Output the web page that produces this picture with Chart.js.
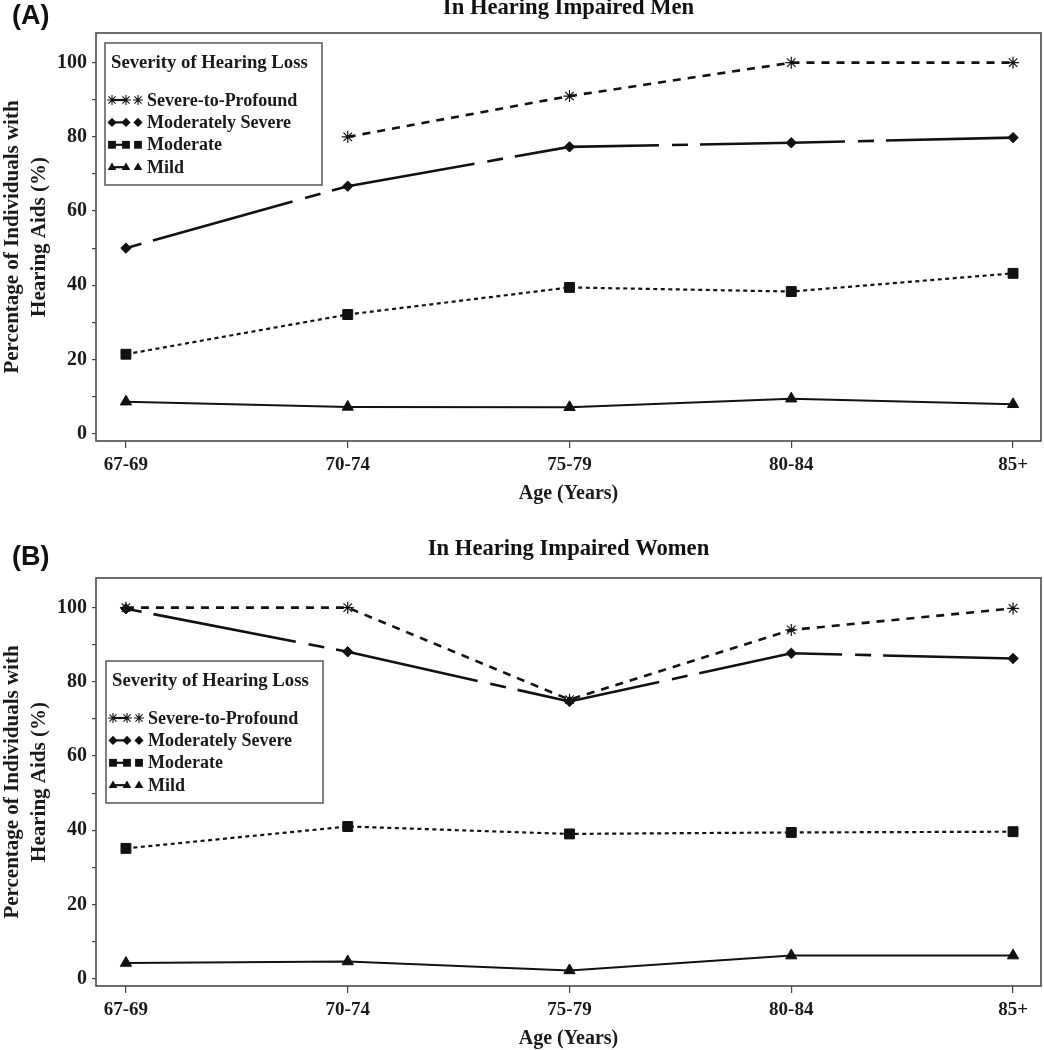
<!DOCTYPE html>
<html><head><meta charset="utf-8">
<script src="https://cdn.jsdelivr.net/npm/chart.js@4.4.1/dist/chart.umd.min.js"></script>
<style>
html,body{margin:0;padding:0;background:#fff;overflow:hidden;width:1044px;height:1050px;}
.wrap{position:absolute;left:0;width:1044px;height:545px;}
</style></head><body>
<div class="wrap" style="top:-12px"><canvas id="cA" width="1044" height="545"></canvas></div>
<div class="wrap" style="top:533px"><canvas id="cB" width="1044" height="545"></canvas></div>
<script>
// ---- data ----
const ageGroups = ['67-69', '70-74', '75-79', '80-84', '85+'];
const seriesNames = ['Severe-to-Profound', 'Moderately Severe', 'Moderate', 'Mild'];
const yTickValues = [0, 10, 20, 30, 40, 50, 60, 70, 80, 90, 100];
const yLabelEvery = 20;

const menSevere   = [null, 80, 91, 100, 100];
const menModSev   = [50, 66.7, 77.3, 78.4, 79.8];
const menModerate = [21.4, 32.1, 39.4, 38.3, 43.2];
const menMild     = [8.6, 7.2, 7.1, 9.4, 7.9];

const womenSevere   = [100, 100, 75.2, 94.0, 99.8];
const womenModSev   = [99.7, 88.1, 74.7, 87.7, 86.3];
const womenModerate = [35.1, 41.0, 39.0, 39.4, 39.6];
const womenMild     = [4.2, 4.6, 2.2, 6.2, 6.2];

const titleMen = 'In Hearing Impaired Men';
const titleWomen = 'In Hearing Impaired Women';
const legendTitle = 'Severity of Hearing Loss';
const xTitle = 'Age (Years)';
const yTitle = ['Percentage of Individuals with', 'Hearing Aids (%)'];

// ---- styling ----
const SERIF = '"Liberation Serif", "Times New Roman", serif';
const INK = '#111';
const seriesStyles = [
  {pointStyle: 'star', pointRadius: 6, borderDash: [8, 7], borderWidth: 2.6, pointBorderWidth: 1.2},
  {pointStyle: 'rectRot', pointRadius: 5.2, borderDash: [16, 12, 145, 13], borderWidth: 2.6, pointBorderWidth: 1},
  {pointStyle: 'rect', pointRadius: 7, borderDash: [4, 3.5], borderWidth: 2.2, pointBorderWidth: 1},
  {pointStyle: 'triangle', pointRadius: 6.5, borderDash: [], borderWidth: 2, pointBorderWidth: 1}
];

function makeDatasets(seriesValues) {
  return seriesNames.map((name, i) => Object.assign({
    label: name,
    data: seriesValues[i].map((v, j) => ({x: j, y: v})),
    borderColor: INK,
    backgroundColor: INK,
    pointBackgroundColor: INK,
    pointBorderColor: INK,
    tension: 0,
    fill: false,
    spanGaps: false,
    clip: false
  }, seriesStyles[i]));
}

function drawMarker(ctx, style, x, y, r) {
  ctx.beginPath();
  if (style === 'star') {
    ctx.lineWidth = 1.1;
    for (let k = 0; k < 4; k++) {
      const a = k * Math.PI / 4;
      ctx.moveTo(x - Math.cos(a) * r, y - Math.sin(a) * r);
      ctx.lineTo(x + Math.cos(a) * r, y + Math.sin(a) * r);
    }
    ctx.stroke();
    return;
  }
  if (style === 'rectRot') {
    ctx.moveTo(x, y - r); ctx.lineTo(x + r, y); ctx.lineTo(x, y + r); ctx.lineTo(x - r, y); ctx.closePath();
  } else if (style === 'rect') {
    const s = r * 0.85; ctx.rect(x - s, y - s, 2 * s, 2 * s);
  } else if (style === 'triangle') {
    ctx.moveTo(x, y - r); ctx.lineTo(x + r * 0.95, y + r * 0.6); ctx.lineTo(x - r * 0.95, y + r * 0.6); ctx.closePath();
  }
  ctx.fill();
}

const framePlugin = {
  id: 'frame',
  beforeDatasetsDraw(chart) {
    const {ctx, chartArea: a} = chart;
    ctx.save();
    ctx.strokeStyle = '#4a4a4a';
    ctx.lineWidth = 1.6;
    ctx.strokeRect(a.left, a.top, a.right - a.left, a.bottom - a.top);
    ctx.restore();
  }
};

const boxLegendPlugin = {
  id: 'boxLegend',
  afterDraw(chart, args, o) {
    const ctx = chart.ctx;
    ctx.save();
    ctx.fillStyle = '#fff';
    ctx.fillRect(o.x, o.y, o.w, o.h);
    ctx.strokeStyle = '#555';
    ctx.lineWidth = 1.5;
    ctx.strokeRect(o.x, o.y, o.w, o.h);
    ctx.fillStyle = '#1a1a1a';
    ctx.font = 'bold 18.7px ' + SERIF;
    ctx.textBaseline = 'middle';
    ctx.textAlign = 'left';
    ctx.fillText(o.title, o.x + 6, o.y + 20);
    chart.data.datasets.forEach((ds, i) => {
      const cy = o.y + 57 + i * 22.4;
      ctx.strokeStyle = INK; ctx.fillStyle = INK;
      ctx.lineWidth = 2.2;
      ctx.setLineDash([]);
      ctx.beginPath(); ctx.moveTo(o.x + 7, cy); ctx.lineTo(o.x + 21, cy); ctx.stroke();
      [7, 21, 33].forEach(dx => drawMarker(ctx, ds.pointStyle, o.x + dx, cy, ds.pointStyle === 'star' ? 5 : 4.6));
      ctx.fillStyle = '#1a1a1a';
      ctx.font = 'bold 18px ' + SERIF;
      ctx.fillText(ds.label, o.x + 42, cy + 1);
    });
    ctx.restore();
  }
};

const textPlugin = {
  id: 'panelText',
  afterDraw(chart, args, o) {
    const ctx = chart.ctx;
    const a = chart.chartArea;
    ctx.save();
    ctx.fillStyle = '#111';
    ctx.textBaseline = 'middle';
    ctx.font = 'bold 27px "Liberation Sans", Arial, sans-serif';
    ctx.textAlign = 'left';
    ctx.fillText(o.panel, o.panelX, o.panelY);
    ctx.font = 'bold 22.6px ' + SERIF;
    ctx.textAlign = 'center';
    ctx.fillText(o.title, (a.left + a.right) / 2, o.titleY);
    ctx.restore();
  }
};

function makeChart(id, texts, seriesValues, legendPos) {
  return new Chart(document.getElementById(id), {
    type: 'line',
    data: {datasets: makeDatasets(seriesValues)},
    plugins: [framePlugin, boxLegendPlugin, textPlugin],
    options: {
      responsive: false,
      animation: false,
      devicePixelRatio: 1,
      layout: {autoPadding: false, padding: {left: 0, right: 3, top: 45, bottom: 0}},
      plugins: {
        legend: {display: false},
        tooltip: {enabled: false},
        title: {display: false},
        boxLegend: Object.assign({title: legendTitle, w: 217, h: 142}, legendPos),
        panelText: texts
      },
      scales: {
        x: {
          type: 'linear', min: -0.135, max: 4.126,
          afterBuildTicks: s => { s.ticks = ageGroups.map((_, i) => ({value: i})); },
          afterFit: s => { s.height = 92; s.paddingLeft = 0; s.paddingRight = 0; },
          border: {display: false},
          grid: {drawOnChartArea: false, drawTicks: true, tickLength: 7, color: '#444', lineWidth: 1.2},
          ticks: {
            color: '#1a1a1a', padding: 6, autoSkip: false, maxRotation: 0,
            font: {family: SERIF, size: 19, weight: 'bold'},
            callback: v => ageGroups[v]
          },
          title: {
            display: true, text: xTitle, color: '#1a1a1a',
            font: {family: SERIF, size: 20, weight: 'bold', lineHeight: 1.2},
            padding: {top: 0, bottom: 27}
          }
        },
        y: {
          type: 'linear', min: -2, max: 108,
          afterBuildTicks: s => { s.ticks = yTickValues.map(v => ({value: v})); },
          afterFit: s => { s.width = 96; s.paddingTop = 0; s.paddingBottom = 0; },
          border: {display: false},
          grid: {drawOnChartArea: false, drawTicks: true, tickLength: 4, color: '#444', lineWidth: 1.2},
          ticks: {
            color: '#1a1a1a', padding: 5,
            font: {family: SERIF, size: 20, weight: 'bold'},
            callback: v => (v % yLabelEvery === 0 ? String(v) : '')
          },
          title: {
            display: true, text: yTitle, color: '#1a1a1a',
            font: {family: SERIF, size: 21, weight: 'bold', lineHeight: 1.3},
            padding: {top: -1, bottom: 0}
          }
        }
      }
    }
  });
}

makeChart('cA', {title: titleMen, titleY: 20.5, panel: '(A)', panelX: 12, panelY: 29},
  [menSevere, menModSev, menModerate, menMild], {x: 105, y: 55});
makeChart('cB', {title: titleWomen, titleY: 16, panel: '(B)', panelX: 12, panelY: 25},
  [womenSevere, womenModSev, womenModerate, womenMild], {x: 106, y: 128});
</script>
</body></html>
